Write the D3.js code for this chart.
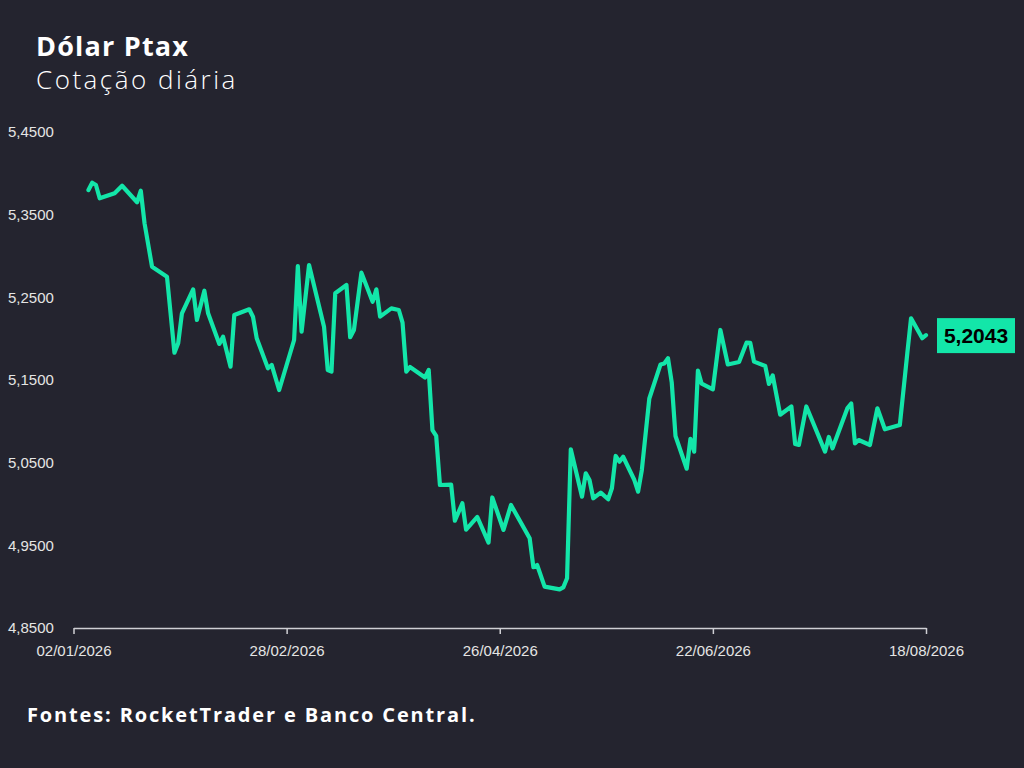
<!DOCTYPE html>
<html>
<head>
<meta charset="utf-8">
<script src="https://cdnjs.cloudflare.com/ajax/libs/d3/7.8.5/d3.min.js"></script>
<style>
  html, body { margin: 0; padding: 0; background: #24242f; }
  svg { display: block; }
</style>
</head>
<body>
<svg id="chart" width="1024" height="768"></svg>
<script>
// daily ptax quotes
var dates = [
  "2026-01-06", "2026-01-07", "2026-01-08", "2026-01-09", "2026-01-13", "2026-01-15",
  "2026-01-19", "2026-01-20", "2026-01-21", "2026-01-23", "2026-01-27", "2026-01-29",
  "2026-01-30", "2026-01-31", "2026-02-03", "2026-02-04", "2026-02-06", "2026-02-07",
  "2026-02-10", "2026-02-11", "2026-02-13", "2026-02-14", "2026-02-18", "2026-02-19",
  "2026-02-20", "2026-02-23", "2026-02-24", "2026-02-26", "2026-03-02", "2026-03-03",
  "2026-03-04", "2026-03-06", "2026-03-10", "2026-03-11", "2026-03-12", "2026-03-13",
  "2026-03-16", "2026-03-17", "2026-03-18", "2026-03-20", "2026-03-23", "2026-03-24",
  "2026-03-25", "2026-03-28", "2026-03-30", "2026-03-31", "2026-04-01", "2026-04-02",
  "2026-04-06", "2026-04-07", "2026-04-08", "2026-04-09", "2026-04-10", "2026-04-13",
  "2026-04-14", "2026-04-16", "2026-04-17", "2026-04-20", "2026-04-23", "2026-04-24",
  "2026-04-27", "2026-04-29", "2026-05-04", "2026-05-05", "2026-05-06", "2026-05-08",
  "2026-05-12", "2026-05-13", "2026-05-14", "2026-05-15", "2026-05-18", "2026-05-19",
  "2026-05-20", "2026-05-21", "2026-05-23", "2026-05-25", "2026-05-26", "2026-05-27",
  "2026-05-28", "2026-05-29", "2026-06-01", "2026-06-02", "2026-06-03", "2026-06-05",
  "2026-06-08", "2026-06-09", "2026-06-10", "2026-06-11", "2026-06-12", "2026-06-15",
  "2026-06-16", "2026-06-17", "2026-06-18", "2026-06-19", "2026-06-22", "2026-06-24",
  "2026-06-26", "2026-06-29", "2026-07-01", "2026-07-02", "2026-07-03", "2026-07-06",
  "2026-07-07", "2026-07-08", "2026-07-10", "2026-07-13", "2026-07-14", "2026-07-15",
  "2026-07-17", "2026-07-22", "2026-07-23", "2026-07-24", "2026-07-28", "2026-07-29",
  "2026-07-30", "2026-07-31", "2026-08-03", "2026-08-05", "2026-08-07", "2026-08-11",
  "2026-08-13", "2026-08-14", "2026-08-17", "2026-08-18"
];
var values = [
  5.3798, 5.3887, 5.3859, 5.3698, 5.3759, 5.3850,
  5.3650, 5.3790, 5.3396, 5.2871, 5.2750, 5.1830,
  5.1944, 5.2307, 5.2597, 5.2226, 5.2580, 5.2307,
  5.1936, 5.2024, 5.1661, 5.2286, 5.2355, 5.2266,
  5.2005, 5.1642, 5.1682, 5.1379, 5.1984, 5.2879,
  5.2084, 5.2891, 5.2145, 5.1621, 5.1601, 5.2549,
  5.2649, 5.2017, 5.2105, 5.2798, 5.2447, 5.2597,
  5.2266, 5.2367, 5.2347, 5.2193, 5.1601, 5.1657,
  5.1530, 5.1621, 5.0895, 5.0823, 5.0230, 5.0234,
  4.9798, 5.0009, 4.9689, 4.9843, 4.9532, 5.0079,
  4.9686, 4.9988, 4.9585, 4.9235, 4.9262, 4.9000,
  4.8968, 4.8992, 4.9101, 5.0662, 5.0089, 5.0372,
  5.0290, 5.0069, 5.0137, 5.0057, 5.0190, 5.0581,
  5.0512, 5.0572, 5.0290, 5.0149, 5.0411, 5.1276,
  5.1688, 5.1700, 5.1763, 5.1470, 5.0823, 5.0427,
  5.0789, 5.0633, 5.1613, 5.1455, 5.1388, 5.2105,
  5.1688, 5.1718, 5.1951, 5.1948, 5.1722, 5.1670,
  5.1452, 5.1555, 5.1080, 5.1180, 5.0726, 5.0714,
  5.1180, 5.0633, 5.0811, 5.0674, 5.1160, 5.1216,
  5.0734, 5.0774, 5.0714, 5.1158, 5.0904, 5.0956,
  5.1823, 5.2246, 5.2005, 5.2043
];
var yTicks = [4.85, 4.95, 5.05, 5.15, 5.25, 5.35, 5.45];
var xTicks = ["2026-01-02", "2026-02-28", "2026-04-26", "2026-06-22", "2026-08-18"];
var title = "Dólar Ptax";
var subtitle = "Cotação diária";
var source = "Fontes: RocketTrader e Banco Central.";

var parse = d3.timeParse("%Y-%m-%d");
var data = dates.map(function(d, i) {
  return { date: parse(d), value: values[i] };
});

var ptBR = d3.formatLocale({ decimal: ",", thousands: ".", grouping: [3], currency: ["R$ ", ""] });
var fmtVal = ptBR.format(".4f");
var fmtDate = d3.timeFormat("%d/%m/%Y");

var lineColor = "#13e6a9";
var textColor = "#e4e4e4";

var svg = d3.select("#chart");

var x = d3.scaleTime()
  .domain([parse(xTicks[0]), parse(xTicks[xTicks.length - 1])])
  .range([73.5, 926]);

var y = d3.scaleLinear()
  .domain([4.85, 5.45])
  .range([628, 132]);

// titles
svg.append("text")
  .attr("x", 36).attr("y", 56)
  .attr("fill", "#ffffff")
  .style("font-family", "'Open Sans', sans-serif")
  .style("font-weight", 700)
  .style("font-size", "27px")
  .style("letter-spacing", "1.2px")
  .text(title);

svg.append("text")
  .attr("x", 36).attr("y", 89)
  .attr("fill", "#ffffff")
  .style("font-family", "'Open Sans', sans-serif")
  .style("font-weight", 300)
  .style("font-size", "26px")
  .style("letter-spacing", "2.5px")
  .text(subtitle);

// x axis
var xAxis = svg.append("g")
  .attr("transform", "translate(0,628)")
  .call(d3.axisBottom(x)
    .tickValues(xTicks.map(parse))
    .tickFormat(fmtDate)
    .tickSize(6)
    .tickSizeOuter(0)
    .tickPadding(11));

xAxis.select(".domain").attr("stroke", "#cfcfd4").attr("stroke-width", 1.5);
xAxis.selectAll(".tick line").attr("stroke", "#cfcfd4").attr("stroke-width", 1.5);
xAxis.selectAll(".tick text")
  .attr("fill", textColor)
  .style("font-family", "'Liberation Sans', Arial, sans-serif")
  .style("font-size", "15px");

// y axis, labels only
var yAxis = svg.append("g")
  .attr("transform", "translate(8,0)")
  .call(d3.axisLeft(y)
    .tickValues(yTicks)
    .tickFormat(fmtVal)
    .tickSize(0)
    .tickPadding(0));

yAxis.select(".domain").remove();
yAxis.selectAll(".tick line").remove();
yAxis.selectAll(".tick text")
  .attr("text-anchor", "start")
  .attr("fill", textColor)
  .style("font-family", "'Liberation Sans', Arial, sans-serif")
  .style("font-size", "15px");

// the line
var line = d3.line()
  .x(function(d) { return x(d.date); })
  .y(function(d) { return y(d.value); });

svg.append("path")
  .datum(data)
  .attr("d", line)
  .attr("fill", "none")
  .attr("stroke", lineColor)
  .attr("stroke-width", 4.2)
  .attr("stroke-linejoin", "round")
  .attr("stroke-linecap", "round");

// last value tag
var last = data[data.length - 1];
var tag = svg.append("g")
  .attr("transform", "translate(" + (x(last.date) + 11) + "," + y(last.value) + ")");

tag.append("rect")
  .attr("x", 0).attr("y", -17)
  .attr("width", 78).attr("height", 35)
  .attr("fill", lineColor);

tag.append("text")
  .attr("x", 39).attr("y", 7.5)
  .attr("text-anchor", "middle")
  .attr("fill", "#000000")
  .style("font-family", "'Liberation Sans', Arial, sans-serif")
  .style("font-weight", 700)
  .style("font-size", "21px")
  .text(fmtVal(last.value));

// source
svg.append("text")
  .attr("x", 27).attr("y", 722)
  .attr("fill", "#ffffff")
  .style("font-family", "'Open Sans', sans-serif")
  .style("font-weight", 700)
  .style("font-size", "20px")
  .style("letter-spacing", "1.85px")
  .text(source);
</script>
</body>
</html>
